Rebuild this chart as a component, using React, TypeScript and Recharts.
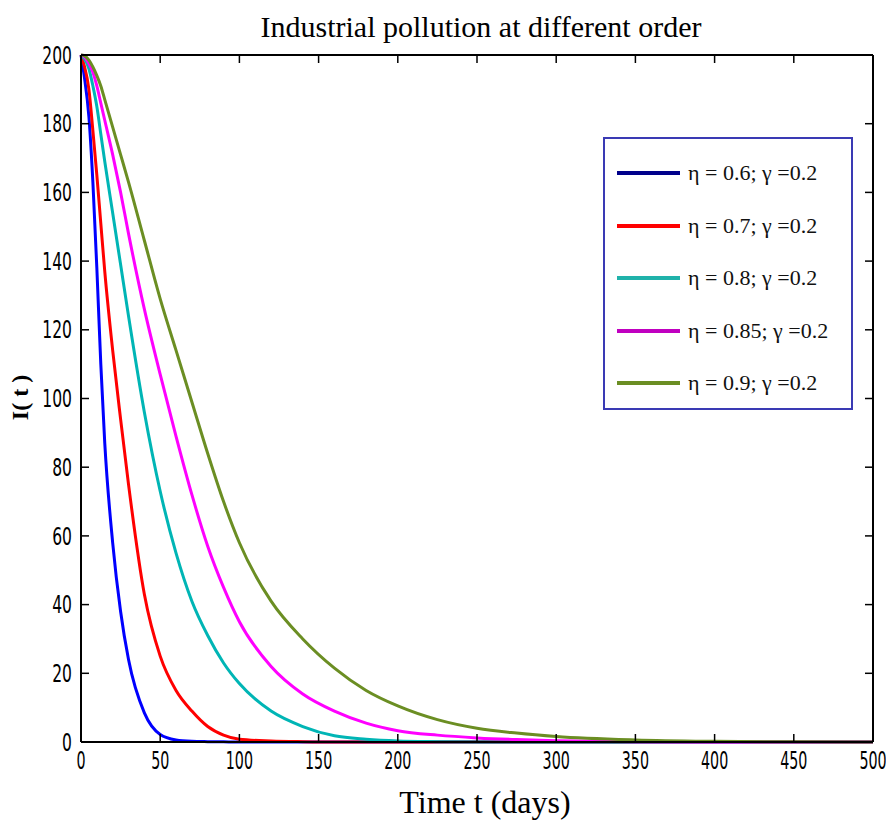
import React from 'react';
import { LineChart, Line, XAxis, YAxis, Legend } from 'recharts';

const times = [0, 2, 5, 7.5, 10, 12.5, 15, 20, 25, 30, 40, 50, 60, 70, 80, 90, 100, 120, 140, 160, 180, 200, 225, 250, 275, 300, 350, 400, 450, 500];
const eta06 = [200, 194, 182, 163, 138, 110, 87, 58, 38, 24, 8.5, 2.2, 0.6, 0.2, 0.1, 0.05, 0, 0, 0, 0, 0, 0, 0, 0, 0, 0, 0, 0, 0, 0];
const eta07 = [200, 197, 190, 178, 165, 151, 137, 114, 94, 75, 43, 25, 15, 9, 4.5, 2, 0.8, 0.3, 0.1, 0, 0, 0, 0, 0, 0, 0, 0, 0, 0, 0];
const eta08 = [200, 199, 196, 191, 185, 177, 169, 154, 139, 124, 96, 73, 55, 41, 31, 23, 17, 9, 4.5, 1.8, 0.8, 0.3, 0.1, 0, 0, 0, 0, 0, 0, 0];
const eta085 = [200, 199.5, 197.5, 195, 191, 186, 181, 171, 160, 148, 126, 107, 89, 72, 57, 45, 35, 22, 14, 9, 5.5, 3.3, 2, 1.2, 0.7, 0.4, 0.1, 0, 0, 0];
const eta09 = [200, 199.8, 198.5, 196.5, 194, 191, 187, 179, 171, 163, 146, 129, 114, 99, 84, 70, 58, 41, 30, 21.5, 15, 10.5, 6.5, 4, 2.6, 1.6, 0.6, 0.2, 0.05, 0];

const seriesKeys = ['s06', 's07', 's08', 's085', 's09'];
const seriesNames = ['η = 0.6; γ =0.2', 'η = 0.7; γ =0.2', 'η = 0.8; γ =0.2', 'η = 0.85; γ =0.2', 'η = 0.9; γ =0.2'];
const seriesColors = ['#0000ff', '#ff0000', '#00b5b5', '#ff00ff', '#6b8e23'];
const legendColors = ['#00008b', '#ff0000', '#20b2aa', '#c000c0', '#6b8e23'];
const seriesValues = [eta06, eta07, eta08, eta085, eta09];

const xTicks = [0, 50, 100, 150, 200, 250, 300, 350, 400, 450, 500];
const yTicks = [0, 20, 40, 60, 80, 100, 120, 140, 160, 180, 200];

const data = times.map((t, i) => {
  const row: any = { t };
  seriesKeys.forEach((k, j) => {
    row[k] = seriesValues[j][i];
  });
  return row;
});

const TICK_FONT = "'Liberation Sans Narrow', 'DejaVu Sans Condensed', 'Liberation Sans', Arial, sans-serif";
const SERIF = "'Liberation Serif', 'DejaVu Serif', serif";
const TL = 8;

const BottomTick = (props: any) => {
  const { x, y, payload } = props;
  return (
    <g>
      <line x1={x} y1={y} x2={x} y2={y - TL} stroke="#000" strokeWidth={1.5} />
      <text
        x={0}
        y={0}
        dy="0.72em"
        textAnchor="middle"
        fill="#000"
        fontSize={24}
        fontFamily={TICK_FONT}
        transform={`translate(${x},${y + 10}) scale(0.66,1)`}
      >
        {payload.value}
      </text>
    </g>
  );
};

const LeftTick = (props: any) => {
  const { x, y, payload } = props;
  return (
    <g>
      <line x1={x} y1={y} x2={x + TL} y2={y} stroke="#000" strokeWidth={1.5} />
      <text
        x={0}
        y={0}
        dy="0.36em"
        textAnchor="end"
        fill="#000"
        fontSize={24}
        fontFamily={TICK_FONT}
        transform={`translate(${x - 9},${y}) scale(0.72,1)`}
      >
        {payload.value}
      </text>
    </g>
  );
};

const TopTick = (props: any) => {
  const { x, y } = props;
  return <line x1={x} y1={y} x2={x} y2={y + TL} stroke="#000" strokeWidth={1.5} />;
};

const RightTick = (props: any) => {
  const { x, y } = props;
  return <line x1={x} y1={y} x2={x - TL} y2={y} stroke="#000" strokeWidth={1.5} />;
};

const LegendBox = () => {
  return (
    <div
      style={{
        width: 250,
        height: 273,
        boxSizing: 'border-box',
        border: '2px solid #3a3ab4',
        background: '#fff',
        paddingTop: 8,
      }}
    >
      {seriesNames.map((name, i) => (
        <div
          key={i}
          style={{ height: 52.5, display: 'flex', alignItems: 'center', paddingLeft: 12 }}
        >
          <svg width={63} height={6} style={{ display: 'block' }}>
            <line x1={0} y1={3} x2={63} y2={3} stroke={legendColors[i]} strokeWidth={4} />
          </svg>
          <span
            style={{
              marginLeft: 8,
              fontFamily: SERIF,
              fontSize: 22,
              color: '#111',
              whiteSpace: 'nowrap',
            }}
          >
            {name}
          </span>
        </div>
      ))}
    </div>
  );
};

export default function App() {
  return (
    <div style={{ position: 'relative', width: 886, height: 815 }}>
      <LineChart
        width={886}
        height={815}
        data={data}
        margin={{ top: 46, right: 20, left: 0, bottom: 0 }}
      >
        <XAxis
          dataKey="t"
          type="number"
          domain={[0, 500]}
          ticks={xTicks}
          height={81}
          axisLine={{ stroke: '#000', strokeWidth: 2 }}
          tickLine={false}
          tickSize={0}
          tickMargin={0}
          tick={<BottomTick />}
          interval={0}
        />
        <XAxis
          xAxisId="top"
          orientation="top"
          dataKey="t"
          type="number"
          domain={[0, 500]}
          ticks={xTicks}
          height={1}
          axisLine={{ stroke: '#000', strokeWidth: 2 }}
          tickLine={false}
          tickSize={0}
          tickMargin={0}
          tick={<TopTick />}
          interval={0}
        />
        <YAxis
          type="number"
          domain={[0, 200]}
          ticks={yTicks}
          width={73}
          axisLine={{ stroke: '#000', strokeWidth: 2 }}
          tickLine={false}
          tickSize={0}
          tickMargin={0}
          tick={<LeftTick />}
          interval={0}
        />
        <YAxis
          yAxisId="right"
          orientation="right"
          type="number"
          domain={[0, 200]}
          ticks={yTicks}
          width={1}
          axisLine={{ stroke: '#000', strokeWidth: 2 }}
          tickLine={false}
          tickSize={0}
          tickMargin={0}
          tick={<RightTick />}
          interval={0}
        />
        {seriesKeys.map((k, j) => (
          <Line
            key={k}
            dataKey={k}
            name={seriesNames[j]}
            stroke={seriesColors[j]}
            strokeWidth={3}
            dot={false}
            type="monotone"
            isAnimationActive={false}
            xAxisId={j === 4 ? 'top' : 0}
            yAxisId={j === 4 ? 'right' : 0}
          />
        ))}
        <Legend
          layout="horizontal"
          verticalAlign="middle"
          align="center"
          content={<LegendBox />}
          wrapperStyle={{ position: 'absolute', left: 595, top: 129, width: 250, height: 273 }}
        />
      </LineChart>
      <div
        style={{
          position: 'absolute',
          left: 0,
          width: 946,
          top: 2,
          textAlign: 'center',
          fontFamily: SERIF,
          fontSize: 30,
          color: '#000',
        }}
      >
        Industrial pollution at different order
      </div>
      <div
        style={{
          position: 'absolute',
          left: 0,
          width: 954,
          top: 776,
          textAlign: 'center',
          fontFamily: SERIF,
          fontSize: 32,
          color: '#000',
        }}
      >
        Time t (days)
      </div>
      <div
        style={{
          position: 'absolute',
          left: -38,
          top: 376,
          width: 100,
          textAlign: 'center',
          transform: 'rotate(-90deg)',
          fontFamily: SERIF,
          fontWeight: 'bold',
          fontSize: 24,
          color: '#000',
        }}
      >
        I( t )
      </div>
    </div>
  );
}
